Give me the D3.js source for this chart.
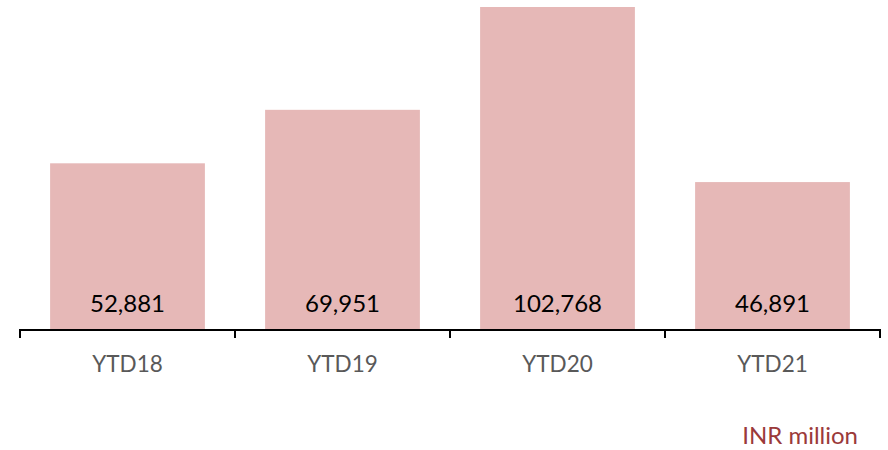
<!DOCTYPE html>
<html>
<head>
<meta charset="utf-8">
<script src="https://cdn.jsdelivr.net/npm/d3@7"></script>
<style>
  body { margin: 0; background: #fff; }
  svg { display: block; font-family: Lato, "Open Sans", sans-serif; }
</style>
</head>
<body>
<div id="chart"></div>
<script>
const categories = ['YTD18', 'YTD19', 'YTD20', 'YTD21'];
const values = [52881, 69951, 102768, 46891];

const width = 888, height = 450;
const axisY = 329;

const svg = d3.select('#chart').append('svg')
    .attr('width', width)
    .attr('height', height);

const x = d3.scaleBand()
    .domain(categories)
    .range([20, 880])
    .paddingInner(0.28)
    .paddingOuter(0.14);

const y = d3.scaleLinear()
    .domain([0, 102768])
    .range([axisY, 7]);

// Bars
svg.selectAll('rect.bar')
    .data(values)
    .enter()
    .append('rect')
    .attr('class', 'bar')
    .attr('x', (d, i) => x(categories[i]))
    .attr('y', d => y(d))
    .attr('width', x.bandwidth())
    .attr('height', d => axisY - y(d))
    .attr('fill', '#e6b8b7');

// Value labels
svg.selectAll('text.val')
    .data(values)
    .enter()
    .append('text')
    .attr('class', 'val')
    .attr('x', (d, i) => x(categories[i]) + x.bandwidth() / 2)
    .attr('y', 312)
    .attr('text-anchor', 'middle')
    .style('font-size', '24px')
    .attr('fill', '#000')
    .text(d => d3.format(',')(d));

// X axis
const xAxis = svg.append('g')
    .attr('transform', `translate(0,${axisY + 1})`);

xAxis.append('line')
    .attr('x1', 20).attr('x2', 880)
    .attr('stroke', '#000')
    .attr('stroke-width', 2);

const step = x.step();
d3.range(categories.length + 1).forEach(i => {
    const tx = 20 + i * step;
    xAxis.append('line')
        .attr('x1', tx).attr('x2', tx)
        .attr('y1', -1).attr('y2', 8)
        .attr('stroke', '#000')
        .attr('stroke-width', 2);
});

xAxis.selectAll('text.cat')
    .data(categories)
    .enter()
    .append('text')
    .attr('class', 'cat')
    .attr('x', d => x(d) + x.bandwidth() / 2)
    .attr('y', 42)
    .attr('text-anchor', 'middle')
    .style('font-size', '22.5px')
    .attr('fill', '#595959')
    .text(d => d);

// Unit note
svg.append('text')
    .attr('x', 858)
    .attr('y', 444)
    .attr('text-anchor', 'end')
    .style('font-size', '24px')
    .attr('fill', '#9b3a3a')
    .text('INR million');
</script>
</body>
</html>
